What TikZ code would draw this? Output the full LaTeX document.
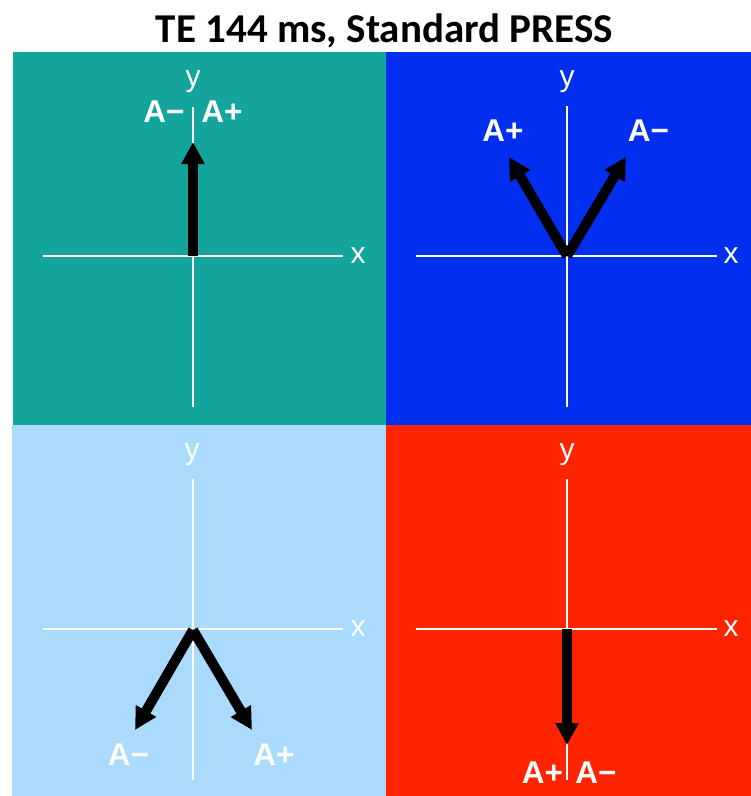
\documentclass[tikz,border=0pt]{standalone}
\usepackage{fontspec}
\setmainfont{Liberation Sans}
\newfontfamily\titlefont{Carlito}
\usetikzlibrary{arrows.meta}
\definecolor{cteal}{RGB}{19,164,155}
\definecolor{cblue}{RGB}{2,46,240}
\definecolor{clight}{RGB}{170,218,252}
\definecolor{cred}{RGB}{255,36,0}
\begin{document}
\begin{tikzpicture}[x=1pt,y=-1pt,
  axisline/.style={draw=white,line width=2.6pt},
  vec/.style={draw=black,line width=10pt,-{Triangle[length=22pt,width=22pt]}},
  axlabel/.style={text=white,font=\fontsize{30}{30}\selectfont,inner sep=0pt},
  amp/.style={text=white,font=\bfseries\fontsize{31.5}{31.5}\selectfont,inner sep=0pt,anchor=base},
  titlestyle/.style={text=black,font=\titlefont\bfseries\fontsize{41}{41}\selectfont,inner sep=0pt,anchor=base}
]
\useasboundingbox[fill=white] (0,0) rectangle (751,796);
% title
\node[titlestyle] (title) at (384.5,42) {TE 144 ms, Standard PRESS};
% panels
\fill[cteal]  (13,52) rectangle (386,425);
\fill[cblue]  (386,52) rectangle (751,425);
\fill[clight] (12,425) rectangle (386,796);
\fill[cred]   (386,425) rectangle (751,796);

% ---------- top-left panel ----------
\coordinate (tlO) at (193,256);
\coordinate (tlXa) at (43,256);  \coordinate (tlXb) at (343,256);
\coordinate (tlYa) at (193,107); \coordinate (tlYb) at (193,407);
\draw[axisline] (tlXa) -- (tlXb);
\draw[axisline] (tlYa) -- (tlYb);
\node[axlabel] (tlx) at (358,256) {x};
\node[axlabel] (tly) at (193,82) {y};
\coordinate (tlT) at (193,142);
\draw[vec] (tlO) -- (tlT);
\node[amp] (tlAm) at (164,122) {A−};
\node[amp] (tlAp) at (222,122) {A+};

% ---------- top-right panel ----------
\coordinate (trO) at (567,256);
\coordinate (trXa) at (416,256); \coordinate (trXb) at (717,256);
\coordinate (trYa) at (567,106); \coordinate (trYb) at (567,407);
\draw[axisline] (trXa) -- (trXb);
\draw[axisline] (trYa) -- (trYb);
\node[axlabel] (trx) at (731,256) {x};
\node[axlabel] (try) at (567,82) {y};
\coordinate (trT1) at (509,157);
\coordinate (trT2) at (626,157);
\draw[vec] (trO) -- (trT1);
\draw[vec] (trO) -- (trT2);
\node[amp] (trAp) at (503,141.5) {A+};
\node[amp] (trAm) at (648.5,141.5) {A−};

% ---------- bottom-left panel ----------
\coordinate (blO) at (193,630);
\coordinate (blXa) at (43,629);  \coordinate (blXb) at (343,629);
\coordinate (blYa) at (193,479); \coordinate (blYb) at (193,780);
\draw[axisline] (blXa) -- (blXb);
\draw[axisline] (blYa) -- (blYb);
\node[axlabel] (blx) at (358,629) {x};
\node[axlabel] (bly) at (192,455) {y};
\coordinate (blT1) at (135,730);
\coordinate (blT2) at (252,730);
\draw[vec] (blO) -- (blT1);
\draw[vec] (blO) -- (blT2);
\node[amp] (blAm) at (128.5,765) {A−};
\node[amp] (blAp) at (274,765) {A+};

% ---------- bottom-right panel ----------
\coordinate (brO) at (567,629);
\coordinate (brXa) at (416,629); \coordinate (brXb) at (717,629);
\coordinate (brYa) at (567,479); \coordinate (brYb) at (567,780);
\draw[axisline] (brXa) -- (brXb);
\draw[axisline] (brYa) -- (brYb);
\node[axlabel] (brx) at (731,629) {x};
\node[axlabel] (bry) at (567,455) {y};
\coordinate (brT) at (567,745);
\draw[vec] (brO) -- (brT);
\node[amp] (brAp) at (542.5,783) {A+};
\node[amp] (brAm) at (596,783) {A−};
\end{tikzpicture}
\end{document}
